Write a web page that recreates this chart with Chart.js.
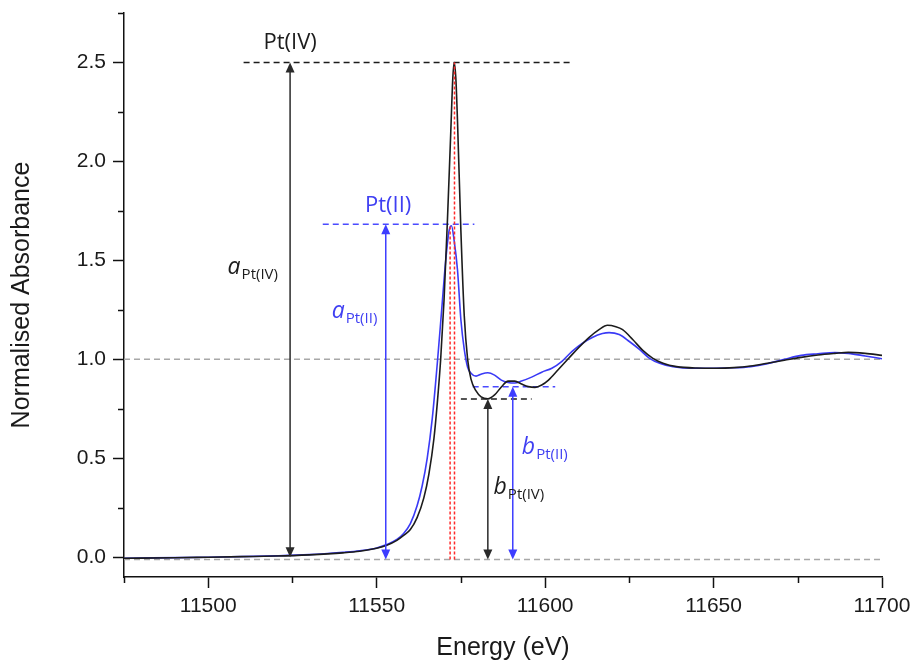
<!DOCTYPE html>
<html>
<head>
<meta charset="utf-8">
<script src="https://cdn.jsdelivr.net/npm/chart.js@4.4.1/dist/chart.umd.min.js"></script>
<style>
    html, body { margin: 0; padding: 0; background: #fff; }
    #wrap { width: 915px; height: 664px; }
</style>
</head>
<body>
<div id="wrap"><canvas id="grafica" width="915" height="664"></canvas></div>
<script>
// Pt(IV) spectrum (black)
var energyPt4 = [11475, 11490, 11500, 11510, 11520, 11530, 11540, 11545, 11550, 11553,
    11556, 11558, 11560, 11562, 11564, 11565.5, 11567, 11568, 11569, 11570,
    11571, 11572, 11572.6, 11573, 11573.5, 11574, 11575, 11576, 11577, 11578,
    11579.5, 11581, 11583, 11585, 11587, 11589, 11591, 11593, 11595, 11597,
    11599, 11601, 11604, 11607, 11610, 11613, 11616, 11618.5, 11621, 11623,
    11626, 11629, 11632, 11635, 11639, 11645, 11651, 11656, 11661, 11666,
    11671, 11676, 11681, 11686, 11690, 11695, 11700];
var absPt4 = [-0.005, -0.003, 0, 0.003, 0.006, 0.012, 0.022, 0.03, 0.045, 0.06,
    0.085, 0.11, 0.14, 0.2, 0.3, 0.42, 0.6, 0.78, 1.0, 1.3,
    1.7, 2.15, 2.42, 2.5, 2.42, 2.2, 1.65, 1.22, 1.0, 0.9,
    0.84, 0.81, 0.80, 0.82, 0.86, 0.89, 0.89, 0.875, 0.862, 0.858,
    0.87, 0.895, 0.95, 1.005, 1.06, 1.11, 1.15, 1.172, 1.165, 1.15,
    1.1, 1.045, 1.005, 0.98, 0.963, 0.956, 0.955, 0.958, 0.966, 0.98,
    0.995, 1.01, 1.022, 1.03, 1.035, 1.03, 1.02];

// Pt(II) spectrum (blue)
var energyPt2 = [11475, 11500, 11520, 11530, 11540, 11545, 11550, 11553, 11556, 11558,
    11560, 11562, 11563.5, 11565, 11566.5, 11568, 11569.3, 11570.5, 11571.5, 11572.2,
    11573, 11574, 11575, 11576, 11577, 11578, 11579.5, 11581, 11583, 11585,
    11587, 11589, 11591, 11593, 11596, 11599, 11602, 11605, 11608, 11611,
    11614, 11617, 11619, 11622, 11625, 11628, 11631, 11634, 11638, 11644,
    11650, 11656, 11661, 11666, 11671, 11676, 11681, 11686, 11690, 11695,
    11700];
var absPt2 = [-0.005, 0, 0.007, 0.013, 0.025, 0.033, 0.047, 0.064, 0.09, 0.12,
    0.17, 0.26, 0.36, 0.5, 0.7, 0.98, 1.25, 1.5, 1.65, 1.675,
    1.6, 1.45, 1.2, 1.05, 0.96, 0.93, 0.915, 0.925, 0.932, 0.92,
    0.895, 0.883, 0.88, 0.89, 0.91, 0.935, 0.955, 0.99, 1.04, 1.08,
    1.11, 1.13, 1.135, 1.125, 1.09, 1.05, 1.005, 0.98, 0.963, 0.955,
    0.955, 0.957, 0.963, 0.978, 1.0, 1.02, 1.028, 1.034, 1.03, 1.017,
    1.003];

// ticks
var xTicks = [11475, 11500, 11525, 11550, 11575, 11600, 11625, 11650, 11675, 11700];
var xLabels = [11500, 11550, 11600, 11650, 11700];
var yTicks = [0, 0.25, 0.5, 0.75, 1, 1.25, 1.5, 1.75, 2, 2.25, 2.5, 2.75];
var yLabels = [0, 0.5, 1, 1.5, 2, 2.5];

// horizontal dashed guides: grey 1.0, grey base, Pt(IV) top, Pt(II) top, Pt(IV) min, Pt(II) min
var guideFrom = [11475, 11475, 11510.5, 11534, 11575, 11578.5];
var guideTo = [11699.5, 11699.5, 11608, 11579, 11596, 11603];
var guideLevel = [1.0, -0.012, 2.5, 1.683, 0.80, 0.862];

// red dashed lines at the white line positions
var edgeX = [11571.8, 11573.1];
var edgeTop = [1.675, 2.5];
var edgeBase = -0.012;

// arrows a Pt(IV), a Pt(II), b Pt(IV), b Pt(II)
var arrowX = [11524.3, 11552.7, 11583, 11590.4];
var arrowTop = [2.5, 1.683, 0.80, 0.862];
var arrowBottom = [0, -0.012, -0.012, -0.012];

var labelMain = ['a', 'a', 'b', 'b'];
var labelSub = ['Pt(IV)', 'Pt(II)', 'Pt(IV)', 'Pt(II)'];
var labelX = [11520.7, 11550.2, 11584.7, 11593.1];
var labelY = [1.431, 1.207, 0.321, 0.523];

var stateNames = ['Pt(IV)', 'Pt(II)'];
var stateX = [11524.3, 11553.4];
var stateY = [2.6, 1.778];

var BLACK = '#1c1c1c';
var BLUE = '#3a3af6';
var BLUE_TXT = '#3f3ff2';

function toPoints(xs, ys) {
    var pts = [];
    for (let i = 0; i < xs.length; i++) {
        pts.push({ x: xs[i], y: ys[i] });
    }
    return pts;
}

function isMajorX(v) { return xLabels.indexOf(v) >= 0; }
function isMajorY(v) {
    for (let i = 0; i < yLabels.length; i++) {
        if (Math.abs(yLabels[i] - v) < 1e-6) return true;
    }
    return false;
}

function drawArrow(ctx, x, yTop, yBot, color) {
    var head = 10, half = 4.5;
    ctx.save();
    ctx.strokeStyle = color;
    ctx.fillStyle = color;
    ctx.lineWidth = 1.5;
    ctx.beginPath();
    ctx.moveTo(x, yTop + head - 1);
    ctx.lineTo(x, yBot - head + 1);
    ctx.stroke();
    ctx.beginPath();
    ctx.moveTo(x, yTop);
    ctx.lineTo(x - half, yTop + head);
    ctx.lineTo(x + half, yTop + head);
    ctx.closePath();
    ctx.fill();
    ctx.beginPath();
    ctx.moveTo(x, yBot);
    ctx.lineTo(x - half, yBot - head);
    ctx.lineTo(x + half, yBot - head);
    ctx.closePath();
    ctx.fill();
    ctx.restore();
}

var extrasPlugin = {
    id: 'extras',
    afterDatasetsDraw: function (chart) {
        var ctx = chart.ctx;
        var xs = chart.scales.x, ys = chart.scales.y;
        var area = chart.chartArea;

        // minor ticks
        ctx.save();
        ctx.strokeStyle = '#111';
        ctx.lineWidth = 1.5;
        ctx.beginPath();
        for (let i = 0; i < xTicks.length; i++) {
            if (isMajorX(xTicks[i])) continue;
            var px = Math.round(xs.getPixelForValue(xTicks[i])) + 0.5;
            ctx.moveTo(px, area.bottom);
            ctx.lineTo(px, area.bottom + 6);
        }
        for (let i = 0; i < yTicks.length; i++) {
            if (isMajorY(yTicks[i])) continue;
            var py = Math.round(ys.getPixelForValue(yTicks[i])) + 0.5;
            ctx.moveTo(area.left, py);
            ctx.lineTo(area.left - 6, py);
        }
        ctx.stroke();
        ctx.restore();

        // arrows
        for (let i = 0; i < arrowX.length; i++) {
            var col = (i % 2 === 0) ? '#2a2a2a' : '#3d3dff';
            drawArrow(ctx, xs.getPixelForValue(arrowX[i]), ys.getPixelForValue(arrowTop[i]),
                ys.getPixelForValue(arrowBottom[i]), col);
        }

        // state labels
        ctx.save();
        ctx.textAlign = 'center';
        ctx.textBaseline = 'middle';
        ctx.font = '22px "Open Sans"';
        for (let i = 0; i < stateNames.length; i++) {
            ctx.fillStyle = i === 0 ? BLACK : BLUE_TXT;
            ctx.fillText(stateNames[i], xs.getPixelForValue(stateX[i]), ys.getPixelForValue(stateY[i]));
        }
        ctx.restore();

        // a / b labels with subscripts
        ctx.save();
        ctx.textBaseline = 'alphabetic';
        ctx.textAlign = 'left';
        for (let i = 0; i < labelMain.length; i++) {
            var isPt4 = labelSub[i] === 'Pt(IV)';
            ctx.fillStyle = isPt4 ? BLACK : BLUE_TXT;
            ctx.font = 'italic 23px "Open Sans"';
            var wMain = ctx.measureText(labelMain[i]).width;
            ctx.font = '15px "Open Sans"';
            var wSub = ctx.measureText(labelSub[i]).width;
            var px = xs.getPixelForValue(labelX[i]);
            var py = ys.getPixelForValue(labelY[i]);
            // a-labels are anchored by their right edge, b-labels by their left edge
            var left = labelMain[i] === 'a' ? px - wMain - wSub - 1 : px;
            ctx.font = 'italic 23px "Open Sans"';
            ctx.fillText(labelMain[i], left, py);
            ctx.font = '15px "Open Sans"';
            ctx.fillText(labelSub[i], left + wMain + 1, py + 5);
        }
        ctx.restore();
    }
};

document.addEventListener("DOMContentLoaded", function () {
    var canvas = document.getElementById("grafica");
    var datasets = [];

    for (let i = 0; i < edgeX.length; i++) {
        datasets.push({
            data: [{ x: edgeX[i], y: edgeBase }, { x: edgeX[i], y: edgeTop[i] }],
            borderColor: '#ff2a2a',
            borderWidth: 1.5,
            borderDash: [3, 2],
            pointRadius: 0
        });
    }

    datasets.push({
        label: 'Pt(IV)',
        data: toPoints(energyPt4, absPt4),
        borderColor: BLACK,
        borderWidth: 1.6,
        pointRadius: 0,
        cubicInterpolationMode: 'monotone'
    });
    datasets.push({
        label: 'Pt(II)',
        data: toPoints(energyPt2, absPt2),
        borderColor: BLUE,
        borderWidth: 1.6,
        pointRadius: 0,
        cubicInterpolationMode: 'monotone'
    });

    var guideColors = ['#a8a8a8', '#a8a8a8', '#1c1c1c', '#4a4aff', '#1c1c1c', '#4a4aff'];
    for (let i = 0; i < guideLevel.length; i++) {
        datasets.push({
            data: [{ x: guideFrom[i], y: guideLevel[i] }, { x: guideTo[i], y: guideLevel[i] }],
            borderColor: guideColors[i],
            borderWidth: 1.5,
            borderDash: [6, 4],
            pointRadius: 0
        });
    }

    new Chart(canvas, {
        type: 'line',
        data: { datasets: datasets },
        plugins: [extrasPlugin],
        options: {
            responsive: false,
            animation: false,
            devicePixelRatio: 1,
            layout: { padding: { top: 13, right: 33, left: 0, bottom: 0 } },
            plugins: { legend: { display: false }, tooltip: { enabled: false } },
            scales: {
                x: {
                    type: 'linear',
                    min: 11475,
                    max: 11700,
                    afterBuildTicks: function (axis) {
                        axis.ticks = xTicks.map(function (v) { return { value: v }; });
                    },
                    afterFit: function (axis) {
                        axis.height = 87;
                        axis.paddingLeft = 0;
                        axis.paddingRight = 0;
                    },
                    border: { display: true, color: '#111', width: 1.5 },
                    grid: {
                        drawOnChartArea: false,
                        drawTicks: true,
                        tickLength: 11,
                        tickWidth: 1.5,
                        tickColor: function (c) { return isMajorX(c.tick.value) ? '#111' : 'rgba(0,0,0,0)'; }
                    },
                    ticks: {
                        autoSkip: false,
                        maxRotation: 0,
                        padding: 6,
                        color: '#1a1a1a',
                        font: { family: '"Liberation Sans", Arial, sans-serif', size: 21 },
                        callback: function (v) { return isMajorX(v) ? String(v) : ''; }
                    },
                    title: {
                        display: true,
                        text: 'Energy (eV)',
                        color: '#1a1a1a',
                        font: { family: '"Liberation Sans", Arial, sans-serif', size: 25 },
                        padding: { top: 0, bottom: 1 }
                    }
                },
                y: {
                    type: 'linear',
                    min: -0.1,
                    max: 2.75,
                    afterBuildTicks: function (axis) {
                        axis.ticks = yTicks.map(function (v) { return { value: v }; });
                    },
                    afterFit: function (axis) {
                        axis.width = 124;
                        axis.paddingTop = 0;
                        axis.paddingBottom = 0;
                    },
                    border: { display: true, color: '#111', width: 1.5 },
                    grid: {
                        drawOnChartArea: false,
                        drawTicks: true,
                        tickLength: 11,
                        tickWidth: 1.5,
                        tickColor: function (c) { return isMajorY(c.tick.value) ? '#111' : 'rgba(0,0,0,0)'; }
                    },
                    ticks: {
                        autoSkip: false,
                        padding: 7,
                        color: '#1a1a1a',
                        font: { family: '"Liberation Sans", Arial, sans-serif', size: 21 },
                        callback: function (v) { return isMajorY(v) ? v.toFixed(1) : ''; }
                    },
                    title: {
                        display: true,
                        text: 'Normalised Absorbance',
                        color: '#1a1a1a',
                        font: { family: '"Liberation Sans", Arial, sans-serif', size: 25 },
                        padding: { top: 7, bottom: 0 }
                    }
                }
            }
        }
    });
});
</script>
</body>
</html>
